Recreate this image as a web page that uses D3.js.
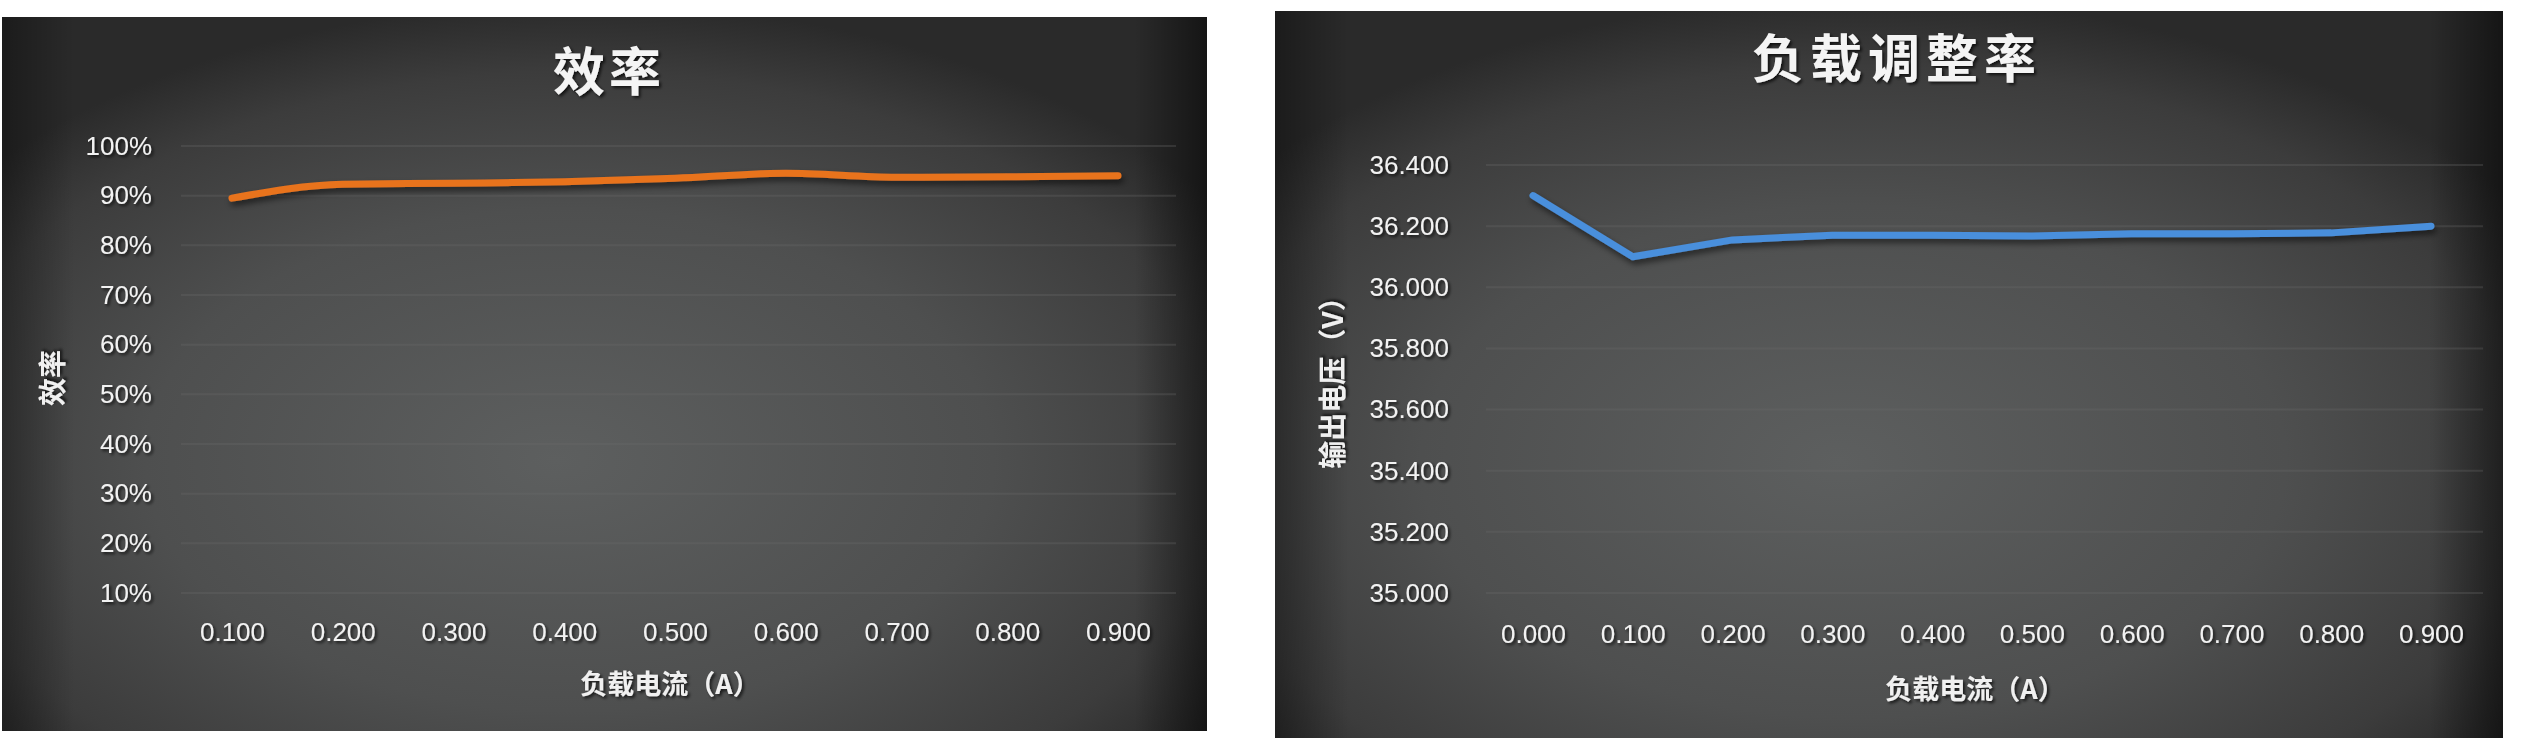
<!DOCTYPE html>
<html>
<head>
<meta charset="utf-8">
<script src="https://cdn.jsdelivr.net/npm/d3@7"></script>
<style>
  html, body { margin: 0; padding: 0; background: #ffffff; }
  svg { display: block; }
  .tick text { font-family: "Liberation Sans", Arial, sans-serif; }
</style>
</head>
<body>
<svg id="chart" width="2528" height="752"></svg>
<script>
// ---------- Data ----------
const effCategories = ["0.100", "0.200", "0.300", "0.400", "0.500", "0.600", "0.700", "0.800", "0.900"];
const effValues = [89.5, 92.3, 92.5, 92.8, 93.5, 94.5, 93.7, 93.8, 94.0];
const effTicks = [10, 20, 30, 40, 50, 60, 70, 80, 90, 100];
const effTitle = "效率";
const effYTitle = "效率";
const effXTitle = "负载电流（A）";

const regCategories = ["0.000", "0.100", "0.200", "0.300", "0.400", "0.500", "0.600", "0.700", "0.800", "0.900"];
const regValues = [36.30, 36.10, 36.155, 36.17, 36.17, 36.168, 36.175, 36.175, 36.178, 36.20];
const regTicks = [35.0, 35.2, 35.4, 35.6, 35.8, 36.0, 36.2, 36.4];
const regTitle = "负载调整率";
const regYTitle = "输出电压（V）";
const regXTitle = "负载电流（A）";

// ---------- Setup ----------
const svg = d3.select("#chart");
const defs = svg.append("defs");

const grad = defs.append("radialGradient")
  .attr("id", "bg").attr("cx", "48%").attr("cy", "62%").attr("r", "64%")
  .attr("fx", "46%").attr("fy", "62%");
grad.append("stop").attr("offset", "0%").attr("stop-color", "#5d5f5f");
grad.append("stop").attr("offset", "55%").attr("stop-color", "#4e4f4f");
grad.append("stop").attr("offset", "85%").attr("stop-color", "#3c3c3c");
grad.append("stop").attr("offset", "100%").attr("stop-color", "#2a2a2a");

const edge = defs.append("linearGradient").attr("id", "edge").attr("x1", "0").attr("x2", "1").attr("y1", "0").attr("y2", "0");
edge.append("stop").attr("offset", "0%").attr("stop-color", "#000").attr("stop-opacity", 0.35);
edge.append("stop").attr("offset", "6%").attr("stop-color", "#000").attr("stop-opacity", 0.0);
edge.append("stop").attr("offset", "94%").attr("stop-color", "#000").attr("stop-opacity", 0.0);
edge.append("stop").attr("offset", "100%").attr("stop-color", "#000").attr("stop-opacity", 0.5);

const tshadow = defs.append("filter").attr("id", "tshadow").attr("x", "-20%").attr("y", "-20%").attr("width", "140%").attr("height", "140%");
tshadow.append("feDropShadow").attr("dx", 2).attr("dy", 2).attr("stdDeviation", 1.5).attr("flood-color", "#000").attr("flood-opacity", 0.7);

const lshadow = defs.append("filter").attr("id", "lshadow").attr("x", "-5%").attr("y", "-50%").attr("width", "110%").attr("height", "200%");
lshadow.append("feDropShadow").attr("dx", 2).attr("dy", 4).attr("stdDeviation", 3).attr("flood-color", "#000").attr("flood-opacity", 0.55);

function panel(cfg) {
  const g = svg.append("g");
  g.append("rect").attr("x", cfg.px).attr("y", cfg.py).attr("width", cfg.pw).attr("height", cfg.ph)
    .attr("fill", "url(#bg)");
  g.append("rect").attr("x", cfg.px).attr("y", cfg.py).attr("width", cfg.pw).attr("height", cfg.ph)
    .attr("fill", "url(#edge)");

  const x = d3.scalePoint().domain(cfg.categories).range(cfg.xRange);
  const y = d3.scaleLinear().domain(cfg.yDomain).range(cfg.yRange);

  // gridlines
  g.append("g").selectAll("line").data(cfg.ticks).join("line")
    .attr("x1", cfg.gridX[0]).attr("x2", cfg.gridX[1])
    .attr("y1", d => y(d)).attr("y2", d => y(d))
    .attr("stroke", "#6a6a6a").attr("stroke-opacity", 0.3).attr("stroke-width", 2);

  // y axis
  const ya = g.append("g").attr("transform", `translate(${cfg.gridX[0]},0)`)
    .call(d3.axisLeft(y).tickValues(cfg.ticks).tickFormat(cfg.fmt).tickSize(0).tickPadding(cfg.yPad));
  ya.select(".domain").remove();
  ya.selectAll("text").attr("fill", "#f2f2f2").attr("font-size", 26).attr("filter", "url(#tshadow)");

  // x axis
  const xa = g.append("g").attr("transform", `translate(0,${cfg.yRange[0]})`)
    .call(d3.axisBottom(x).tickSize(0).tickPadding(cfg.xPad));
  xa.select(".domain").remove();
  xa.selectAll("text").attr("fill", "#f2f2f2").attr("font-size", 26).attr("filter", "url(#tshadow)");

  // line
  const line = d3.line().x((d, i) => x(cfg.categories[i])).y(d => y(d)).curve(cfg.curve);
  g.append("path").datum(cfg.values).attr("d", line)
    .attr("fill", "none").attr("stroke", cfg.color).attr("stroke-width", 7)
    .attr("stroke-linecap", "round").attr("stroke-linejoin", "round")
    .attr("filter", "url(#lshadow)");

  // titles
  g.append("text").text(cfg.title).attr("x", cfg.titleX).attr("y", cfg.titleY)
    .attr("text-anchor", "middle").attr("dominant-baseline", "central")
    .attr("font-family", "'Noto Sans CJK SC', sans-serif").attr("font-weight", 700)
    .attr("font-size", 52).attr("letter-spacing", cfg.titleSpacing)
    .attr("fill", "#f4f4f4").attr("filter", "url(#tshadow)");

  g.append("text").text(cfg.xTitle).attr("x", cfg.xTitleX).attr("y", cfg.xTitleY)
    .attr("text-anchor", "middle").attr("dominant-baseline", "central")
    .attr("font-family", "'Noto Sans CJK SC', sans-serif").attr("font-weight", 700)
    .attr("font-size", 27).attr("fill", "#f0f0f0").attr("filter", "url(#tshadow)");

  g.append("text").text(cfg.yTitle)
    .attr("transform", `translate(${cfg.yTitleX},${cfg.yTitleY}) rotate(-90)`)
    .attr("text-anchor", "middle").attr("dominant-baseline", "central")
    .attr("font-family", "'Noto Sans CJK SC', sans-serif").attr("font-weight", 700)
    .attr("font-size", 28).attr("fill", "#f0f0f0").attr("filter", "url(#tshadow)");
}

panel({
  px: 2, py: 17, pw: 1205, ph: 714,
  categories: effCategories, values: effValues, ticks: effTicks,
  xRange: [232, 1118], yDomain: [10, 100], yRange: [593, 146],
  gridX: [181, 1176], yPad: 29, xPad: 30,
  fmt: d => d + "%",
  color: "#e8731f", curve: d3.curveMonotoneX,
  title: effTitle, titleX: 609, titleY: 68, titleSpacing: 4,
  xTitle: effXTitle, xTitleX: 670, xTitleY: 682,
  yTitle: effYTitle, yTitleX: 51, yTitleY: 378
});

panel({
  px: 1275, py: 11, pw: 1228, ph: 727,
  categories: regCategories, values: regValues, ticks: regTicks,
  xRange: [1533, 2431], yDomain: [35.0, 36.4], yRange: [593, 165],
  gridX: [1486, 2483], yPad: 37, xPad: 32,
  fmt: d3.format(".3f"),
  color: "#4a8fdc", curve: d3.curveLinear,
  title: regTitle, titleX: 1897, titleY: 55, titleSpacing: 6,
  xTitle: regXTitle, xTitleX: 1975, xTitleY: 687,
  yTitle: regYTitle, yTitleX: 1331, yTitleY: 376
});
</script>
</body>
</html>
